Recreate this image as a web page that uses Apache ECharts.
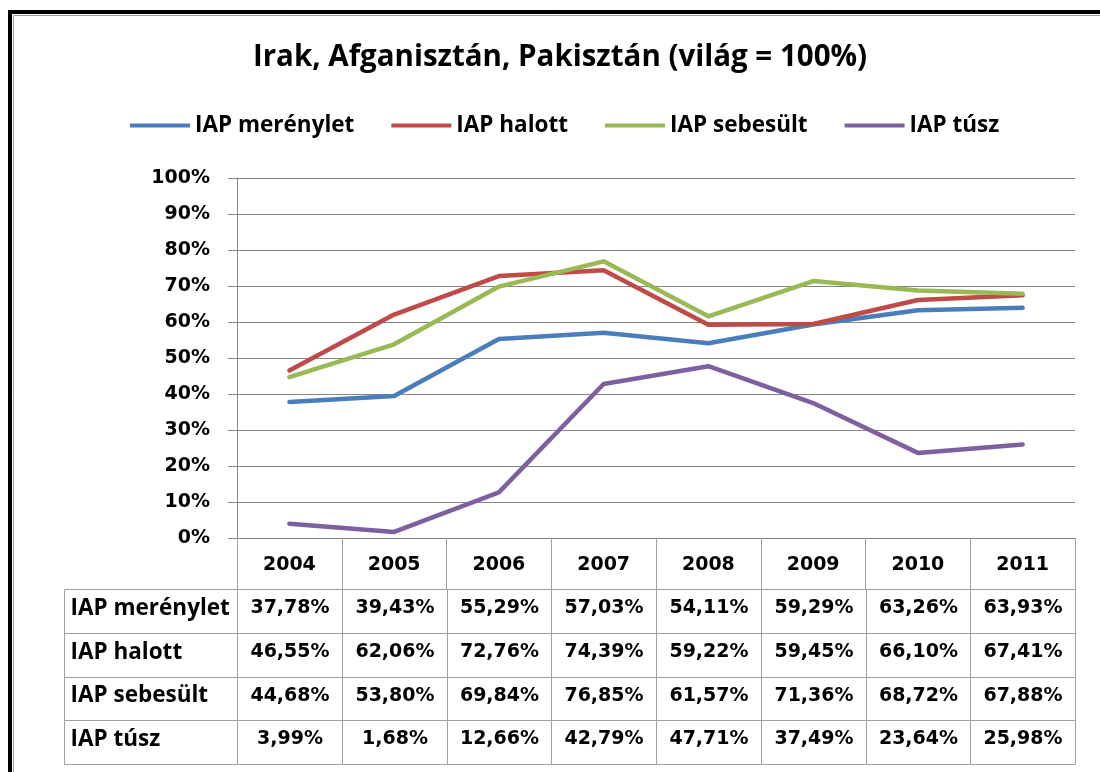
<!DOCTYPE html>
<html>
<head>
<meta charset="utf-8">
<script src="https://cdn.jsdelivr.net/npm/echarts@6/dist/echarts.min.js"></script>
<style>
html,body{margin:0;padding:0;background:#fff;}
#chart{width:1100px;height:772px;}
</style>
</head>
<body>
<div id="chart"></div>
<script>
// ---- data ----
const titleText = 'Irak, Afganisztán, Pakisztán (világ = 100%)';
const years = ['2004', '2005', '2006', '2007', '2008', '2009', '2010', '2011'];
const seriesNames = ['IAP merénylet', 'IAP halott', 'IAP sebesült', 'IAP túsz'];
const merenylet = [37.78, 39.43, 55.29, 57.03, 54.11, 59.29, 63.26, 63.93];
const halott = [46.55, 62.06, 72.76, 74.39, 59.22, 59.45, 66.10, 67.41];
const sebesult = [44.68, 53.80, 69.84, 76.85, 61.57, 71.36, 68.72, 67.88];
const tusz = [3.99, 1.68, 12.66, 42.79, 47.71, 37.49, 23.64, 25.98];
const yMin = 0, yMax = 100, yStep = 10;

// ---- styles ----
const colors = ['#4a7ebb', '#be4b48', '#98b954', '#7d60a0'];
const calibriLike = '"Open Sans", Lato, sans-serif';
const verdanaLike = '"DejaVu Sans", Verdana, sans-serif';
const gridColor = '#868686';
const tableColor = '#a0a0a0';
const HDR = 173 / 104.75; // row-header column width in band units

const allSeries = [merenylet, halott, sebesult, tusz];
const fmt = v => v.toFixed(2).replace('.', ',') + '%';

const tableCells = [];
seriesNames.forEach((name, r) => {
  tableCells.push({ value: [-HDR, 0, r], text: name, header: true });
  allSeries[r].forEach((v, c) => {
    tableCells.push({ value: [c, c + 1, r], text: fmt(v), header: false });
  });
});

const chart = echarts.init(document.getElementById('chart'), null, { renderer: 'canvas' });
chart.setOption({
  backgroundColor: '#ffffff',
  animation: false,
  color: colors,
  title: {
    text: titleText,
    left: 560,
    textAlign: 'center',
    top: 43,
    padding: 0,
    textStyle: { fontFamily: calibriLike, fontSize: 29.5, fontWeight: 'bold', color: '#000' }
  },
  legend: {
    data: seriesNames,
    left: 130,
    top: 114,
    padding: 0,
    icon: 'rect',
    itemWidth: 60,
    itemHeight: 4,
    itemGap: 37,
    textStyle: { fontFamily: calibriLike, fontSize: 22.5, fontWeight: 'bold', color: '#000' }
  },
  graphic: [
    { type: 'rect', z: 100, silent: true, shape: { x: 10, y: 12, width: 1300, height: 1000 },
      style: { fill: 'none', stroke: '#000', lineWidth: 4 } },
    { type: 'rect', z: 100, silent: true, shape: { x: 13.5, y: 15.5, width: 1300, height: 1000 },
      style: { fill: 'none', stroke: '#9a9a9a', lineWidth: 1 } }
  ],
  grid: [
    { left: 237, right: 25, top: 178, bottom: 234 },
    { left: 64, right: 25, top: 589, bottom: 8 }
  ],
  xAxis: [
    {
      gridIndex: 0,
      type: 'category',
      data: years,
      boundaryGap: true,
      axisLine: { show: true, lineStyle: { color: gridColor, width: 1 } },
      axisTick: { show: true, length: 51, interval: 0, lineStyle: { color: tableColor, width: 1 } },
      axisLabel: { show: true, interval: 0, margin: 27, verticalAlign: 'middle',
        fontFamily: verdanaLike, fontSize: 19, fontWeight: 'bold', color: '#000' },
      splitLine: { show: false }
    },
    {
      gridIndex: 1,
      type: 'value',
      min: -HDR,
      max: years.length,
      show: false
    }
  ],
  yAxis: [
    {
      gridIndex: 0,
      type: 'value',
      min: yMin,
      max: yMax,
      interval: yStep,
      axisLine: { show: true, lineStyle: { color: gridColor, width: 1 } },
      axisTick: { show: true, length: 9, lineStyle: { color: gridColor, width: 1 } },
      axisLabel: { margin: 27, formatter: '{value}%',
        fontFamily: verdanaLike, fontSize: 19, fontWeight: 'bold', color: '#000' },
      splitLine: { show: true, lineStyle: { color: gridColor, width: 1 } }
    },
    {
      gridIndex: 1,
      type: 'value',
      min: 0,
      max: seriesNames.length,
      inverse: true,
      show: false
    }
  ],
  series: seriesNames.map((name, i) => ({
    name: name,
    type: 'line',
    xAxisIndex: 0,
    yAxisIndex: 0,
    data: allSeries[i],
    showSymbol: false,
    symbol: 'none',
    smooth: false,
    lineStyle: { width: 4.5, color: colors[i], cap: 'round', join: 'round' },
    itemStyle: { color: colors[i] },
    z: 2 + i
  })).concat([{
    type: 'custom',
    name: 'table',
    xAxisIndex: 1,
    yAxisIndex: 1,
    silent: true,
    clip: false,
    encode: { x: [0, 1], y: 2 },
    data: tableCells.map(c => c.value),
    renderItem: function (params, api) {
      const x0 = api.value(0), x1 = api.value(1), r = api.value(2);
      const p0 = api.coord([x0, r]);
      const p1 = api.coord([x1, r + 1]);
      const cell = tableCells[params.dataIndex];
      const X0 = Math.round(p0[0]) + 0.5, Y0 = Math.round(p0[1]) + 0.5;
      const X1 = Math.round(p1[0]) + 0.5, Y1 = Math.round(p1[1]) + 0.5;
      return {
        type: 'group',
        children: [
          { type: 'rect', shape: { x: X0, y: Y0, width: X1 - X0, height: Y1 - Y0 },
            style: { fill: 'none', stroke: tableColor, lineWidth: 1 } },
          { type: 'text', style: {
              text: cell.text,
              x: cell.header ? X0 + 6 : (X0 + X1) / 2,
              y: (Y0 + Y1) / 2 - 3,
              align: cell.header ? 'left' : 'center',
              verticalAlign: 'middle',
              fontFamily: cell.header ? calibriLike : verdanaLike,
              fontSize: cell.header ? 22.5 : 19,
              fontWeight: 'bold',
              fill: '#000'
          } }
        ]
      };
    }
  }])
});
</script>
</body>
</html>
